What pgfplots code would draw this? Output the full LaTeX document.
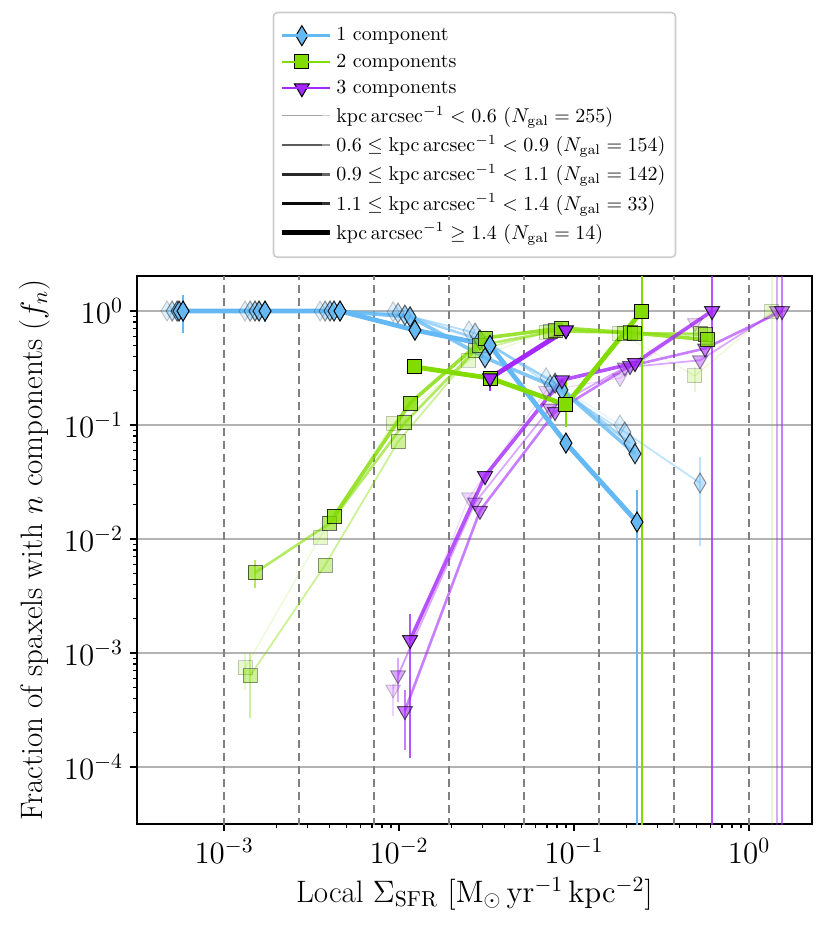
\RequirePackage{fix-cm}
\documentclass[border=0pt]{standalone}
\usepackage{pgfplots}
\pgfplotsset{compat=1.18}
\usetikzlibrary{calc}
\definecolor{c1}{RGB}{100,185,245}
\definecolor{c2}{RGB}{130,220,0}
\definecolor{c3}{RGB}{165,40,255}
\pgfplotsset{
 L0/.style={line width=0.5pt, opacity=0.2},
 L1/.style={line width=0.9pt, opacity=0.4},
 L2/.style={line width=1.3pt, opacity=0.6},
 L3/.style={line width=1.8pt, opacity=0.8},
 L4/.style={line width=2.4pt, opacity=1},
 cA/.style={color=c1, mark=diamond*, mark size=5pt, mark options={solid, fill=c1, draw=black, line width=0.5pt, xscale=0.8}},
 cB/.style={color=c2, mark=square*, mark size=3.5pt, mark options={solid, fill=c2, draw=black, line width=0.5pt}},
 cC/.style={color=c3, mark=triangle*, mark size=4.3pt, mark options={solid, fill=c3, draw=black, line width=0.5pt, rotate=180}},
 E/.style={line width=0.9pt, mark=none, forget plot},
 D/.style={forget plot, black!50, line width=1.2pt, dash pattern=on 4pt off 2.5pt},
}
\begin{document}
\begin{tikzpicture}
\begin{axis}[name=ax, scale only axis, width=337.5pt, height=274pt,
 xmode=log, ymode=log, xmin=3.18e-4, xmax=2.29, ymin=3.16e-5, ymax=2.03,
 tick pos=left, tick align=outside, major tick length=3.5pt, minor tick length=2pt,
 every tick/.style={black, line width=0.6pt},
 axis line style={line width=0.8pt},
 ymajorgrids, major grid style={black!30, line width=0.6pt},
 ytick={1e-4,1e-3,1e-2,1e-1,1}, xtick={1e-3,1e-2,1e-1,1},
 tick label style={font=\fontsize{15.5}{18}\selectfont},
 label style={font=\fontsize{15.5}{18}\selectfont},
 xlabel={Local $\Sigma_{\rm SFR}$ $[\mathrm{M_\odot\,yr^{-1}\,kpc^{-2}}]$},
 ylabel={Fraction of spaxels with $n$ components ($f_n$)},
 legend style={at={(0.5,1)}, anchor=south, yshift=9pt, draw=black!20, line width=0.8pt, rounded corners=2pt, font=\fontsize{10}{11.5}\selectfont, cells={anchor=west}, row sep=0.95pt, inner ysep=5.5pt},
 legend image code/.code={\draw[mark repeat=2,mark phase=2,#1] plot coordinates {(0pt,0pt) (10pt,0pt) (20pt,0pt)}; \path (0pt,0pt) -- (24pt,0pt);},
]
% legend
\addlegendimage{cA, line width=1.3pt}\addlegendentry{1 component}
\addlegendimage{cB, line width=1.3pt}\addlegendentry{2 components}
\addlegendimage{cC, line width=1.3pt}\addlegendentry{3 components}
\addlegendimage{black, L0}\addlegendentry{$\mathrm{kpc\,arcsec^{-1}} < 0.6$ ($N_{\rm gal} = 255$)}
\addlegendimage{black, L1}\addlegendentry{$0.6 \leq \mathrm{kpc\,arcsec^{-1}} < 0.9$ ($N_{\rm gal} = 154$)}
\addlegendimage{black, L2}\addlegendentry{$0.9 \leq \mathrm{kpc\,arcsec^{-1}} < 1.1$ ($N_{\rm gal} = 142$)}
\addlegendimage{black, L3}\addlegendentry{$1.1 \leq \mathrm{kpc\,arcsec^{-1}} < 1.4$ ($N_{\rm gal} = 33$)}
\addlegendimage{black, L4}\addlegendentry{$\mathrm{kpc\,arcsec^{-1}} \geq 1.4$ ($N_{\rm gal} = 14$)}
% bin edges
\addplot[D] coordinates {(1e-3,1e-6)(1e-3,10)};
\addplot[D] coordinates {(2.683e-3,1e-6)(2.683e-3,10)};
\addplot[D] coordinates {(7.197e-3,1e-6)(7.197e-3,10)};
\addplot[D] coordinates {(1.931e-2,1e-6)(1.931e-2,10)};
\addplot[D] coordinates {(5.179e-2,1e-6)(5.179e-2,10)};
\addplot[D] coordinates {(0.1389,1e-6)(0.1389,10)};
\addplot[D] coordinates {(0.3728,1e-6)(0.3728,10)};
\addplot[D] coordinates {(1,1e-6)(1,10)};
% ===== k0 =====
\addplot[forget plot, cA, L0] coordinates {(4.72e-4,1) (1.318e-3,1) (3.54e-3,1) (9.25e-3,0.985) (0.0251,0.67) (0.0692,0.26) (0.183,0.10)};
\addplot[E, c2, opacity=0.2] coordinates {(1.318e-3,4.7e-4) (1.318e-3,1.02e-3)};
\addplot[E, c2, opacity=0.2] coordinates {(0.491,0.195) (0.491,0.32)};
\addplot[E, c2, opacity=0.2] coordinates {(1.35,1e-6) (1.35,10)};
\addplot[forget plot, cB, L0] coordinates {(1.318e-3,7.4e-4) (3.54e-3,0.0104) (9.25e-3,0.104) (0.0251,0.37) (0.0692,0.65) (0.183,0.64) (0.491,0.27) (1.35,1.0)};
\addplot[E, c3, opacity=0.2] coordinates {(9.25e-3,2.8e-4) (9.25e-3,5.4e-4)};
\addplot[forget plot, cC, L0] coordinates {(9.25e-3,4.8e-4) (0.0251,0.0233) (0.0692,0.20) (0.183,0.258) (0.491,0.785)};
% ===== k1 =====
\addplot[E, c1, opacity=0.4] coordinates {(0.525,0.0086) (0.525,0.052)};
\addplot[forget plot, cA, L1] coordinates {(5.05e-4,1) (1.409e-3,1) (3.78e-3,1) (9.87e-3,0.96) (0.0272,0.64) (0.0729,0.224) (0.195,0.087) (0.525,0.031)};
\addplot[E, c2, opacity=0.4] coordinates {(1.409e-3,2.7e-4) (1.409e-3,1.0e-3)};
\addplot[forget plot, cB, L1] coordinates {(1.409e-3,6.3e-4) (3.78e-3,0.0059) (9.87e-3,0.0714) (0.0272,0.45) (0.0729,0.66) (0.195,0.64) (0.525,0.64)};
\addplot[E, c3, opacity=0.4] coordinates {(9.87e-3,3.7e-4) (9.87e-3,9e-4)};
\addplot[E, c3, opacity=0.4] coordinates {(1.445,1e-6) (1.445,10)};
\addplot[forget plot, cC, L1] coordinates {(9.87e-3,6.4e-4) (0.0272,0.0209) (0.0729,0.14) (0.195,0.32) (0.525,0.37) (1.445,1.0)};
% ===== k2 =====
\addplot[forget plot, cA, L2] coordinates {(5.39e-4,1) (1.503e-3,1) (4.03e-3,1) (1.08e-2,0.92) (0.0290,0.56) (0.0779,0.233) (0.209,0.069)};
\addplot[E, c2, opacity=0.6] coordinates {(1.503e-3,0.0037) (1.503e-3,0.0066)};
\addplot[forget plot, cB, L2] coordinates {(1.503e-3,0.00506) (4.03e-3,0.0138) (1.08e-2,0.105) (0.0290,0.50) (0.0779,0.67) (0.209,0.645) (0.561,0.62)};
\addplot[E, c3, opacity=0.6] coordinates {(1.08e-2,1.4e-4) (1.08e-2,4.7e-4)};
\addplot[E, c3, opacity=0.6] coordinates {(1.545,1e-6) (1.545,10)};
\addplot[forget plot, cC, L2] coordinates {(1.08e-2,3.1e-4) (0.0290,0.0177) (0.0779,0.13) (0.209,0.33) (0.561,0.47) (1.545,1.0)};
% ===== k3 =====
\addplot[forget plot, cA, L3] coordinates {(5.53e-4,1) (1.585e-3,1) (4.25e-3,1) (1.156e-2,0.89) (0.0310,0.39) (0.0853,0.203) (0.223,0.056)};
\addplot[forget plot, cB, L3] coordinates {(4.25e-3,0.0159) (1.156e-2,0.156) (0.0310,0.58) (0.0853,0.71) (0.223,0.64) (0.58,0.56)};
\addplot[E, c3, opacity=0.8] coordinates {(1.156e-2,1.2e-4) (1.156e-2,2.2e-3)};
\addplot[E, c3, opacity=0.8] coordinates {(0.615,1e-6) (0.615,10)};
\addplot[forget plot, cC, L3] coordinates {(1.156e-2,1.3e-3) (0.0310,0.0357) (0.0853,0.248) (0.223,0.35) (0.615,1.0)};
% ===== k4 =====
\addplot[E, c1] coordinates {(5.83e-4,0.64) (5.83e-4,1.38)};
\addplot[E, c1] coordinates {(1.715e-3,0.80) (1.715e-3,1.17)};
\addplot[E, c1] coordinates {(0.229,1e-6) (0.229,0.027)};
\addplot[forget plot, cA, L4] coordinates {(5.83e-4,1) (1.715e-3,1) (4.60e-3,1) (1.233e-2,0.68) (0.0331,0.50) (0.0899,0.0695) (0.229,0.0141)};
\addplot[E, c2] coordinates {(0.0899,0.0966) (0.0899,0.265)};
\addplot[E, c2] coordinates {(0.244,1e-6) (0.244,10)};
\addplot[forget plot, cB, L4] coordinates {(1.233e-2,0.323) (0.0331,0.258) (0.0899,0.150) (0.244,1.0)};
\addplot[E, c3] coordinates {(0.0331,0.20) (0.0331,0.30)};
\addplot[forget plot, cC, L4] coordinates {(0.0331,0.258) (0.0899,0.68)};
\end{axis}
\pgfresetboundingbox
\path[use as bounding box] ($(ax.south west)+(-68.5pt,-54pt)$) rectangle ($(ax.north east)+(9pt,138pt)$);
\end{tikzpicture}
\end{document}
